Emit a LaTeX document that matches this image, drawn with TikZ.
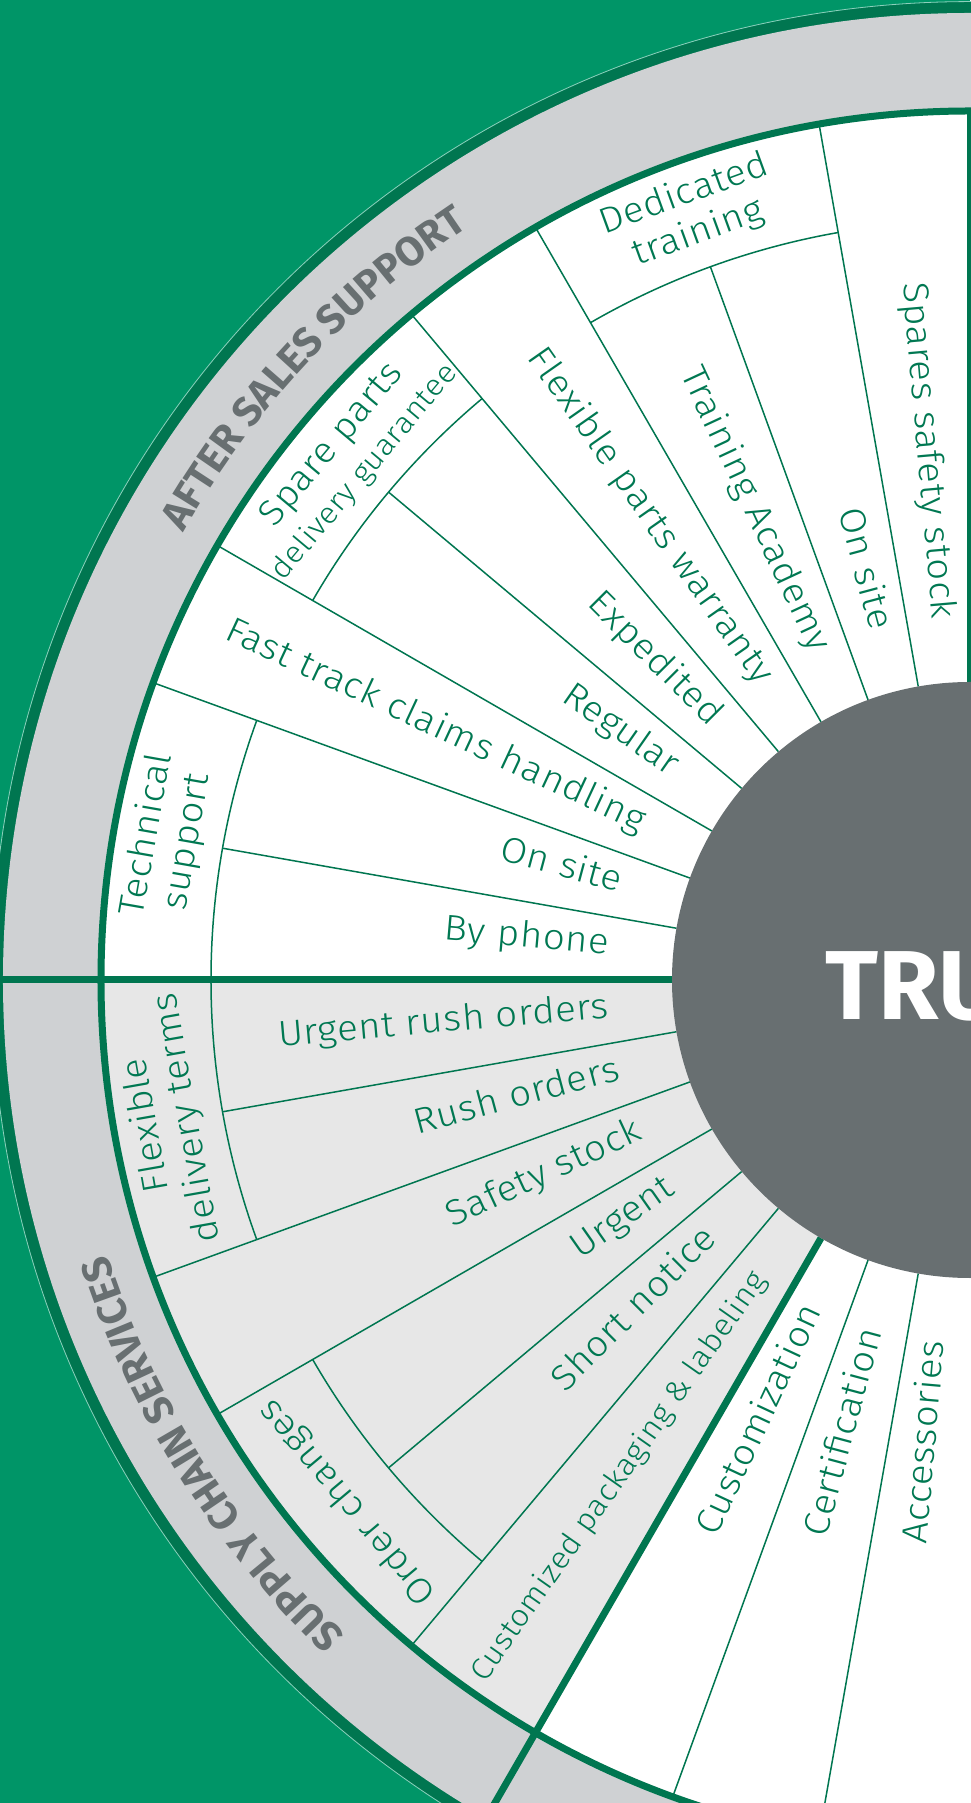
\documentclass[tikz,border=0pt]{standalone}
\usepackage{fontspec}
\usetikzlibrary{decorations.text}
\IfFontExistsTF{Fira Sans Light}
 {\newfontfamily\lightf{Fira Sans Light}[LetterSpace=1.5, FakeStretch=1.08]}
 {\newfontfamily\lightf{Fira Sans}[LetterSpace=1.5, FakeStretch=1.08]}
\newfontfamily\boldf{Fira Sans}
\definecolor{bggreen}{RGB}{0,149,103}
\definecolor{dkgreen}{RGB}{0,118,80}
\definecolor{ringgray}{RGB}{207,209,211}
\definecolor{sectgray}{RGB}{231,231,231}
\definecolor{centgray}{RGB}{104,111,113}
\definecolor{txtgreen}{RGB}{0,120,82}
\definecolor{headgray}{RGB}{104,111,113}
\newcommand\cellfont{\lightf\fontsize{17.9pt}{20.5pt}\selectfont}
\newcommand\smallcellfont{\lightf\fontsize{14.8pt}{17.5pt}\selectfont}
\newcommand\cplfont{\lightf\fontsize{15.1pt}{17.5pt}\selectfont}
\newcommand\headfont{\boldf\bfseries\fontsize{20.5pt}{20.5pt}\selectfont}
\begin{document}
\begin{tikzpicture}[x=0.5pt,y=0.5pt,
  cell/.style={font=\cellfont, text=txtgreen, inner sep=0pt, text height=0.7em, text depth=0.1em, anchor=east},
  outercell/.style={font=\cellfont, text=txtgreen, inner sep=0pt, align=center},
  thinline/.style={draw=dkgreen, line width=0.75pt},
  thickline/.style={draw=dkgreen, line width=3.5pt},
  heading/.style={decorate, decoration={text along path, text align=center, text color=headgray, text={|\headfont|#1}}}]
\useasboundingbox (-970,-823) rectangle (0,980);
\fill[bggreen] (-970,-823) rectangle (0,980);
\fill[dkgreen] (0,0) circle (978);
\draw[white!55!bggreen, line width=0.4pt] (0,0) circle (978.4);
\fill[ringgray] (0,0) circle (967);
\fill[white] (0,0) circle (869);
\fill[sectgray] (0,0) -- (180:869) arc[start angle=180, end angle=240, radius=869] -- cycle;
% thin radial lines
\foreach \a in {100,120,130,150,160,200,210,230,250,260}
  \draw[thinline] (\a:298) -- (\a:869);
\foreach \a in {110,140,170,190,220}
  \draw[thinline] (\a:298) -- (\a:759);
\foreach \s/\e in {100/120,130/150,160/180,180/200,210/230}
  \draw[thinline] (\s:759) arc[start angle=\s, end angle=\e, radius=759];
% thick lines
\draw[thickline] (0,0) circle (869);
\draw[thickline] (180:298) -- (180:980);
\draw[thickline] (240:298) -- (240:980);
\draw[thickline] (90:298) -- (90:869);
% centre
\fill[centgray] (0,0) circle (298);
\node[anchor=base west, inner sep=0pt, text=white, font=\boldf\bfseries\fontsize{49pt}{49pt}\selectfont] (trust) at (-145,-40) {TRU};
% headings
\path[heading={AFTER SALES SUPPORT}] (165:905) arc[start angle=165, end angle=109, radius=905];
\path[heading={SUPPLY CHAIN SERVICES}] (240:905) arc[start angle=240, end angle=184, radius=905];
% inner cells
\foreach \a/\t/\n in {95/Spares safety stock/sss, 105/On site/onsiteA, 115/Training Academy/tracad,
  125/Flexible parts warranty/fpw, 135/Expedited/exped, 145/Regular/regular,
  155/Fast track claims handling/ftch, 165/On site/onsiteB, 175/By phone/byphone,
  185/Urgent rush orders/uro, 195/Rush orders/rush, 205/Safety stock/safety,
  215/Urgent/urgent, 225/Short notice/short,
  245/Customization/custom, 255/Certification/cert, 265/Accessories/acc}
  \node[cell, rotate=\a-180] (\n) at (\a:362) {\t};
\node[cell, font=\cplfont, rotate=55] (cpl) at (235:362) {Customized packaging \& labeling};
% outer cells
\node[outercell, rotate=20] (dedic) at (110:815) {Dedicated\\training};
\node[outercell, rotate=50] (spare) at (140:812) {Spare parts\\{\smallcellfont delivery guarantee}};
\node[outercell, rotate=80] (tech) at (170:815) {Technical\\support};
\node[outercell, rotate=100] (flexdel) at (190:815) {Flexible\\delivery terms};
\node[outercell, rotate=130] (ordch) at (220:812) {Order changes};
\end{tikzpicture}
\end{document}
